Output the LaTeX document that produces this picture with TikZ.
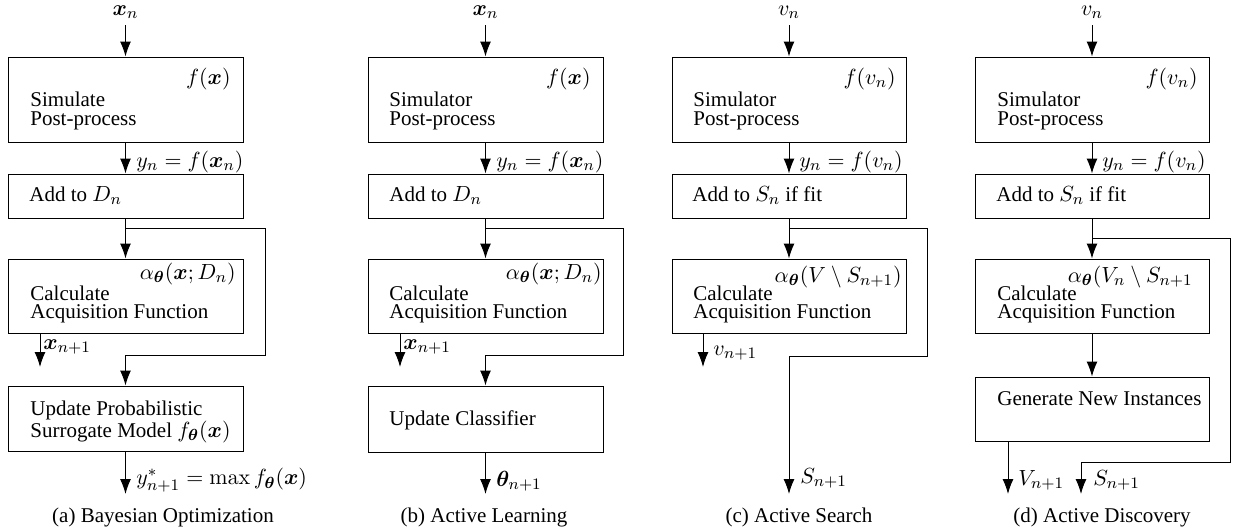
\documentclass[tikz,border=0pt]{standalone}
\usepackage[no-math]{fontspec}
\setmainfont{Liberation Serif}
\usepackage{bm}
\usetikzlibrary{arrows.meta,fit}
\newcommand\mm[1]{{\fontsize{11.3}{13}\selectfont$#1$}}
\begin{document}
\begin{tikzpicture}[x=0.5pt,y=-0.5pt,
  font=\fontsize{10.5}{12}\selectfont,
  box/.style={draw, line width=0.5pt, inner sep=0pt},
  arr/.style={-{Latex[length=7.5pt,width=5.5pt]}, line width=0.5pt},
  lbl/.style={anchor=west, inner sep=0pt},
  txt/.style={anchor=base west, inner sep=0pt},
  rtxt/.style={anchor=base east, inner sep=0pt},
  captxt/.style={anchor=base, inner sep=0pt},
  toplbl/.style={anchor=center, inner sep=0pt}]
\useasboundingbox (0,0) rectangle (1233,531);

% ---------------- (a) Bayesian Optimization ----------------
\node[box, fit={(8,57)(243,142)}] (a1) {};
\node[box, fit={(8,174)(243,218)}] (a2) {};
\node[box, fit={(8,259)(243,333)}] (a3) {};
\node[box, fit={(8,386)(243,451)}] (a4) {};
\node[toplbl] (ain) at (125.5,12) {\mm{\bm{x}_n}};
\coordinate (ain0) at (125.5,25);
\draw[arr] (ain0) -- (a1.north);
\node[rtxt] (af) at (231,84) {\mm{f(\bm{x})}};
\node[txt] (at1) at (30,106) {Simulate};
\node[txt] (at2) at (30,125) {Post-process};
\draw[arr] (a1.south) -- (a2.north);
\node[lbl] (ay) at (136,162) {\mm{y_n = f(\bm{x}_n)}};
\node[txt] (at3) at (29,201) {Add to \mm{D_n}};
\draw[arr] (a2.south) -- (a3.north);
\coordinate (aj) at (125.5,228);
\coordinate (ar) at (265,355);
\draw[arr] (aj) -| (ar) -| (a4.north);
\node[rtxt] (aal) at (236,279) {\mm{\alpha_{\bm{\theta}}(\bm{x};D_n)}};
\node[txt] (at4) at (30,300) {Calculate};
\node[txt] (at5) at (30,318) {Acquisition Function};
\coordinate (ax) at (40,367);
\draw[arr] (ax |- a3.south) -- (ax);
\node[lbl] (axl) at (43,347) {\mm{\bm{x}_{n+1}}};
\node[txt] (at6) at (30,415) {Update Probabilistic};
\node[txt] (at7) at (30,437) {Surrogate Model \mm{f_{\bm{\theta}}(\bm{x})}};
\coordinate (aout) at (125.5,494);
\draw[arr] (a4.south) -- (aout);
\node[lbl] (ayl) at (136,480) {\mm{y^*_{n+1} = \max f_{\bm{\theta}}(\bm{x})}};
\node[captxt] (acap) at (163,522) {(a) Bayesian Optimization};

% ---------------- (b) Active Learning ----------------
\node[box, fit={(368,57)(603,142)}] (b1) {};
\node[box, fit={(368,174)(603,218)}] (b2) {};
\node[box, fit={(368,259)(603,333)}] (b3) {};
\node[box, fit={(368,386)(603,452)}] (b4) {};
\node[toplbl] (bin) at (485.5,12) {\mm{\bm{x}_n}};
\coordinate (bin0) at (485.5,25);
\draw[arr] (bin0) -- (b1.north);
\node[rtxt] (bf) at (591,84) {\mm{f(\bm{x})}};
\node[txt] (bt1) at (389,106) {Simulator};
\node[txt] (bt2) at (389,125) {Post-process};
\draw[arr] (b1.south) -- (b2.north);
\node[lbl] (by) at (496,162) {\mm{y_n = f(\bm{x}_n)}};
\node[txt] (bt3) at (389,201) {Add to \mm{D_n}};
\draw[arr] (b2.south) -- (b3.north);
\coordinate (bj) at (485.5,228);
\coordinate (br) at (623,355);
\draw[arr] (bj) -| (br) -| (b4.north);
\node[rtxt] (bal) at (602,279) {\mm{\alpha_{\bm{\theta}}(\bm{x};D_n)}};
\node[txt] (bt4) at (389,300) {Calculate};
\node[txt] (bt5) at (389,318) {Acquisition Function};
\coordinate (bx) at (400,367);
\draw[arr] (bx |- b3.south) -- (bx);
\node[lbl] (bxl) at (403,347) {\mm{\bm{x}_{n+1}}};
\node[txt] (bt6) at (389,425) {Update Classifier};
\coordinate (bout) at (485.5,494);
\draw[arr] (b4.south) -- (bout);
\node[lbl] (bthl) at (496,481) {\mm{\bm{\theta}_{n+1}}};
\node[captxt] (bcap) at (484,522) {(b) Active Learning};

% ---------------- (c) Active Search ----------------
\node[box, fit={(672,57)(906,142)}] (c1) {};
\node[box, fit={(672,174)(906,218)}] (c2) {};
\node[box, fit={(672,259)(906,333)}] (c3) {};
\node[toplbl] (cin) at (789,12) {\mm{v_n}};
\coordinate (cin0) at (789,25);
\draw[arr] (cin0) -- (c1.north);
\node[rtxt] (cf) at (896,84) {\mm{f(v_n)}};
\node[txt] (ct1) at (693,106) {Simulator};
\node[txt] (ct2) at (693,125) {Post-process};
\draw[arr] (c1.south) -- (c2.north);
\node[lbl] (cy) at (799,162) {\mm{y_n = f(v_n)}};
\node[txt] (ct3) at (692,201) {Add to \mm{S_n} if fit};
\draw[arr] (c2.south) -- (c3.north);
\coordinate (cj) at (789,228);
\coordinate (cr) at (927,356);
\coordinate (cS) at (789,494);
\draw[arr] (cj) -| (cr) -| (cS);
\node[rtxt] (cal) at (902,282) {\mm{\alpha_{\bm{\theta}}(V \setminus S_{n+1})}};
\node[txt] (ct4) at (693,300) {Calculate};
\node[txt] (ct5) at (693,318) {Acquisition Function};
\coordinate (cx) at (703,367);
\draw[arr] (cx |- c3.south) -- (cx);
\node[lbl] (cvl) at (713,353) {\mm{v_{n+1}}};
\node[lbl] (cSl) at (800,478) {\mm{S_{n+1}}};
\node[captxt] (ccap) at (799,522) {(c) Active Search};

% ---------------- (d) Active Discovery ----------------
\node[box, fit={(975,57)(1209,142)}] (d1) {};
\node[box, fit={(975,174)(1209,218)}] (d2) {};
\node[box, fit={(975,259)(1209,333)}] (d3) {};
\node[box, fit={(975,377)(1209,441)}] (d4) {};
\node[toplbl] (din) at (1092,12) {\mm{v_n}};
\coordinate (din0) at (1092,25);
\draw[arr] (din0) -- (d1.north);
\node[rtxt] (df) at (1198,84) {\mm{f(v_n)}};
\node[txt] (dt1) at (997,106) {Simulator};
\node[txt] (dt2) at (997,125) {Post-process};
\draw[arr] (d1.south) -- (d2.north);
\node[lbl] (dy) at (1102,162) {\mm{y_n = f(v_n)}};
\node[txt] (dt3) at (996,201) {Add to \mm{S_n} if fit};
\draw[arr] (d2.south) -- (d3.north);
\coordinate (dj) at (1092,238);
\coordinate (dr) at (1230,462);
\coordinate (dS) at (1081,494);
\draw[arr] (dj) -| (dr) -| (dS);
\node[rtxt] (dal) at (1193,282) {\mm{\alpha_{\bm{\theta}}(V_n \setminus S_{n+1}}};
\node[txt] (dt4) at (997,300) {Calculate};
\node[txt] (dt5) at (997,318) {Acquisition Function};
\draw[arr] (d3.south) -- (d4.north);
\node[txt] (dt6) at (997,405) {Generate New Instances};
\coordinate (dV) at (1008,494);
\draw[arr] (dV |- d4.south) -- (dV);
\node[lbl] (dVl) at (1018,480) {\mm{V_{n+1}}};
\node[lbl] (dSl) at (1093,480) {\mm{S_{n+1}}};
\node[captxt] (dcap) at (1102,522) {(d) Active Discovery};
\end{tikzpicture}
\end{document}
